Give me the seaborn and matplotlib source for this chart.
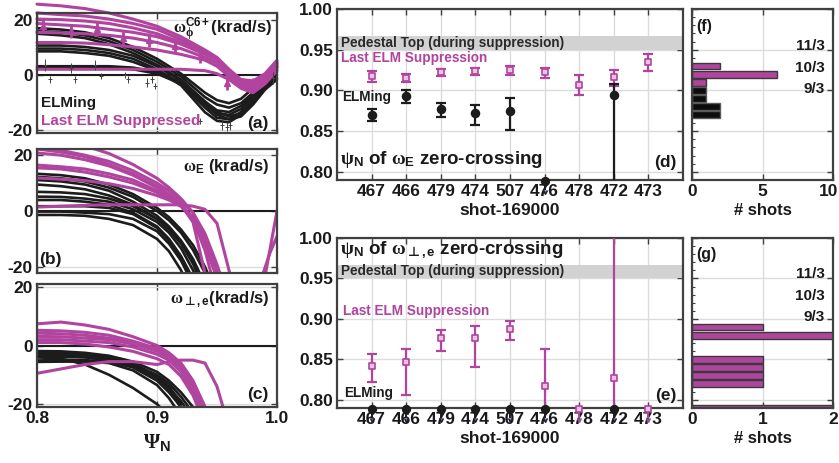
import numpy as np
import pandas as pd
import matplotlib
matplotlib.use('Agg')
import matplotlib.pyplot as plt
import matplotlib.transforms as mtrans
import seaborn as sns
from matplotlib.ticker import MultipleLocator

# ---------------- data ----------------
# panel (a): toroidal C6+ rotation profiles (krad/s)
psi_a = [0.80, 0.82, 0.84, 0.86, 0.88, 0.90, 0.92, 0.94, 0.95, 0.96, 0.97, 0.98, 0.99, 1.00]
a_elming = [
    [17, 16.5, 15.5, 13.4, 10.2, 5.9, 0.5, -6.4, -9.1, -10.2, -8.6, -4.8, -0.5, 4.3],
    [16, 15.5, 14.4, 12.3, 9.1, 4.8, -0.5, -8, -10.7, -11.8, -10.2, -6.4, -1.6, 3.2],
    [15, 14.4, 13.4, 11.2, 8, 3.7, -1.6, -9.6, -12.8, -13.4, -11.2, -7, -2.1, 2.7],
    [10.7, 10.7, 10.2, 9.1, 7, 3.2, -2.1, -10.7, -13.9, -14.4, -12.3, -7.5, -2.7, 2.1],
    [9.6, 9.6, 9.1, 8, 5.9, 2.1, -3.2, -11.8, -15.5, -16, -13.4, -8.6, -3.2, 1.1],
    [8.6, 8.6, 8, 7, 4.8, 1.6, -3.7, -13.5, -16.6, -17.1, -14.4, -9.6, -4.3, 0],
    [3.2, 3.2, 3.2, 3.2, 2.7, 1.1, -2.7, -9.6, -13.4, -15, -13.9, -9.6, -4.8, -1.1],
    [2.7, 2.7, 2.7, 2.7, 2.1, 0.5, -3.2, -10.7, -14.4, -16, -15, -10.7, -5.3, -1.6],
]
a_suppr = [
    [25.7, 25.1, 24.1, 22.5, 20.3, 17.7, 13.9, 9.1, 6.4, 2.1, -1.6, -2.1, 0.5, 5.4],
    [22.5, 21.9, 21.4, 20.3, 18.7, 16.6, 12.8, 8.6, 5.9, 1.6, -2.1, -2.7, 0, 4.8],
    [18.7, 18.2, 17.7, 16.6, 15.5, 13.9, 11.2, 7.5, 5.4, 0.5, -3.2, -3.7, -1.1, 3.7],
    [15.5, 15.3, 15, 14.4, 13.4, 11.8, 9.6, 6.4, 4.3, 0, -3.7, -4.8, -1.6, 3.2],
    [11.8, 11.8, 11.6, 11, 10.2, 9.1, 7.5, 5.4, 3.2, -0.5, -4.3, -5.4, -2.1, 2.7],
    [2.1, 2.1, 2.1, 2.1, 2.1, 2.1, 2.1, 1.6, 0.5, -1.6, -4.8, -6.4, -3.2, 1.6],
    [20.3, 20.1, 19.6, 18.7, 17.1, 15, 11.8, 8, 5.4, 1.1, -2.7, -3.2, -0.5, 4.3],
]
a_sup_pts_psi = [0.805, 0.828, 0.850, 0.872, 0.893, 0.915, 0.936, 0.958, 0.980]
a_sup_pts_val = [17.7, 16.0, 16.6, 13.4, 12.8, 10.7, 7.0, -2.7, -3.7]
a_elm_pts_psi = [0.807, 0.811, 0.828, 0.832, 0.848, 0.853, 0.873, 0.876, 0.892, 0.896,
                 0.898, 0.936, 0.954, 0.958, 0.961, 0.997]
a_elm_pts_val = [3.6, -1.6, 2.6, -1.6, 3.6, -0.5, 0.0, -1.6, -2.7, -1.6,
                 -4.0, -16.7, -18.2, -18.7, -18.2, -1.1]
a_elm_pts_err = [2.1, 1.3, 1.8, 1.3, 1.8, 1.1, 1.1, 1.1, 1.8, 1.1,
                 1.1, 1.1, 1.6, 1.6, 1.6, 2.1]

# panel (b): E x B rotation profiles
psi_b = [0.80, 0.82, 0.84, 0.86, 0.88, 0.90, 0.91, 0.92, 0.93, 0.94, 0.95, 0.96, 0.97]
b_elming = [
    [12.1, 11.6, 10.5, 8.3, 5, 0, -3.3, -7.7, -13.8, -22, -33],
    [11, 10.5, 9.4, 7.2, 3.3, -1.7, -5.5, -10.5, -17, -26],
    [9.4, 8.8, 7.7, 5.5, 2.2, -2.8, -6.6, -11.6, -18.7, -29],
    [6.8, 6.6, 6, 4.4, 1.7, -2.8, -6, -11, -17.6, -27.5],
    [5.1, 5, 4.4, 3.3, 0.6, -3.9, -7.7, -13.2, -21, -31],
    [3.9, 3.9, 3.3, 2.2, -0.6, -5.5, -9.9, -16, -24],
    [1.7, 1.7, 1.7, 1.1, -1.1, -6, -10.5, -16.5, -25],
    [-0.2, -0.2, -0.6, -1.1, -2.8, -7.2, -11.6, -17.6, -26],
    [-1.4, -1.4, -1.7, -2.8, -5, -9.9, -14.3, -21, -31],
    [13.2, 12.7, 11.6, 9.4, 6, 1.1, -2.2, -6.6, -12.1, -19.8, -30],
]
b_suppr = [
    [25.3, 24.8, 23.1, 20.4, 16.5, 11.6, 8.3, 4.4, -0.6, -9, -21, -34],
    [22.3, 21.5, 19.8, 17.6, 14.3, 9.9, 7.2, 3.9, -0.6, -8, -19, -32],
    [22, 20.9, 19.3, 16.5, 13.2, 8.8, 6, 2.8, -3, -14, -30],
    [20.6, 19.8, 18.2, 16, 12.7, 8.3, 5.5, 2.2, -4, -22, -40],
    [16.3, 15.7, 14.9, 13.2, 11, 7.2, 5, 1.7, -3, -12, -24],
    [15.3, 14.9, 13.8, 12.1, 9.9, 6.6, 4.4, 1.7, -2.2, -10, -22],
    [11.7, 11.3, 10.8, 9.7, 8, 5.5, 3.9, 1.7, -2.2, -9, -20, -33],
    [1.4, 1.7, 2, 2.2, 2.2, 2.2, 2.2, 2.2, 1.7, 0.6, -4.4, -21, -38],
]
b_edge_psi = [0.987, 0.994, 1.000]
b_edge_suppr = [
    [-24, -15, -9],
    [-30, -14, 0],
]

# panel (c): perpendicular electron rotation profiles
psi_c = [0.80, 0.82, 0.84, 0.86, 0.88, 0.90, 0.91, 0.92, 0.93, 0.94, 0.95, 0.96]
c_elming = [
    [-1.9, -2, -2.5, -3.5, -5.5, -9, -12, -16, -21],
    [-3, -3, -3.5, -4.5, -6.5, -10, -13, -17.5, -23],
    [-4, -4, -4, -5, -7, -11, -14.5, -19, -25],
    [-5.1, -5, -5, -5.5, -7.5, -12, -16, -21],
    [-5.6, -5.5, -5.5, -6, -8.5, -13.5, -18, -24],
    [-2.5, -2.5, -3, -4, -6, -10.5, -14, -20],
    [-4, -4.5, -6.5, -10, -14.5, -20, -24],
    [-3.5, -3.5, -4, -5, -7, -11, -15, -21],
]
c_suppr = [
    [7.4, 8, 7, 5.5, 3, 0, -2.5, -6, -12, -21],
    [5.2, 5, 4.5, 3.5, 1.5, -1, -3, -6.5, -12.5, -21],
    [4.2, 4, 3.5, 2.5, 1, -1.5, -3.5, -7, -13.5, -23],
    [3.1, 3, 2.5, 2, 0.5, -2, -4, -8, -14.5, -24],
    [2, 2, 1.5, 1, -0.5, -3, -5, -9, -16, -26],
    [1, 1, 0.5, -0.5, -2, -4.5, -6.5, -10.5, -17, -27],
    [-9.5, -8, -6.5, -5.5, -5.5, -6.5, -5.5, -5, -5, -6, -14, -28],
]

# panels (d),(e): psi_N of zero crossing per shot
shots = ['467', '466', '479', '474', '507', '476', '478', '472', '473']

d_sup_shots = ['467', '466', '479', '474', '507', '476', '478', '472', '473']
d_sup_val = [0.9175, 0.915, 0.9225, 0.924, 0.925, 0.9225, 0.907, 0.916, 0.935]
d_sup_lo = [0.910, 0.910, 0.918, 0.919, 0.919, 0.915, 0.894, 0.905, 0.924]
d_sup_hi = [0.924, 0.920, 0.926, 0.928, 0.930, 0.927, 0.919, 0.925, 0.945]
d_elm_shots = ['467', '466', '479', '474', '507', '472']
d_elm_val = [0.8696, 0.893, 0.877, 0.872, 0.875, 0.8946]
d_elm_lo = [0.862, 0.884, 0.8675, 0.857, 0.851, 0.700]
d_elm_hi = [0.877, 0.900, 0.885, 0.8825, 0.891, 0.9075]
d_elm_limit_shots = ['476']

e_sup_shots = ['467', '466', '479', '474', '507', '476', '472']
e_sup_val = [0.8425, 0.8467, 0.876, 0.876, 0.887, 0.8175, 0.8267]
e_sup_lo = [0.8217, 0.806, 0.860, 0.8404, 0.874, 0.750, 0.750]
e_sup_hi = [0.857, 0.8625, 0.886, 0.8917, 0.8975, 0.8625, 1.010]
e_sup_limit_shots = ['478', '473']
e_elm_limit_shots = ['467', '466', '479', '474', '507', '476', '472']
limit_val = 0.789

ped_top = [0.950, 0.967]

# panels (f),(g): histograms of the zero-crossing location
f_sup_psi = [0.93, 0.92, 0.91]
f_sup_n = [2, 6, 1]
f_elm_psi = [0.90, 0.89, 0.88, 0.87]
f_elm_n = [1, 1, 2, 2]
g_sup_psi = [0.89, 0.88, 0.85, 0.84, 0.83, 0.82, 0.79]
g_sup_n = [1, 2, 1, 1, 1, 1, 2]
q_labels = ['11/3', '10/3', '9/3']
q_psi = [0.955, 0.928, 0.902]

# ---------------- style ----------------
sns.set_theme(style='white')
plt.rcParams.update({
    'font.family': ['Liberation Sans', 'DejaVu Sans'],
    'font.weight': 'bold',
    'axes.labelweight': 'bold',
    'axes.unicode_minus': False,
    'mathtext.fontset': 'custom',
    'mathtext.rm': 'Liberation Serif',
    'mathtext.it': 'Liberation Serif:italic',
    'mathtext.bf': 'Liberation Sans:bold',
    'mathtext.sf': 'DejaVu Sans:bold',
    'mathtext.fallback': 'stix',
})

MAG = '#B0449F'
MAGL = '#E9C3E3'
BLK = '#1c1c1c'
SPINE = '#404040'
GRID = '#dcdcdc'
TXT = '#1a1a1a'
BOLD = 'bold'
PERP = r'\mathsf{\bot}'

W, H = 839, 463
fig = plt.figure(figsize=(W / 100, H / 100), dpi=100)


def rect(l, t, r, b):
    return [l / W, 1 - b / H, (r - l) / W, (b - t) / H]


def style(ax, labelsize=12.5):
    for s in ax.spines.values():
        s.set_visible(True)
        s.set_color(SPINE)
        s.set_linewidth(1.6)
    ax.tick_params(axis='both', which='major', direction='in', length=4, width=1,
                   color=SPINE, labelsize=labelsize, labelcolor=TXT,
                   top=True, right=True, bottom=True, left=True, pad=3)
    ax.grid(True, color=GRID, lw=1)
    ax.set_axisbelow(True)


def bold_ticks(ax):
    for lbl in ax.get_xticklabels() + ax.get_yticklabels():
        lbl.set_fontweight(BOLD)


def curves(ax, grid, data, color, lw, clip=True):
    rows = []
    for i, c in enumerate(data):
        for x, y in zip(grid, c):
            rows.append({'curve': i, 'psi': x, 'val': y})
    df = pd.DataFrame(rows)
    n0 = len(ax.lines)
    sns.lineplot(data=df, x='psi', y='val', units='curve', estimator=None,
                 color=color, lw=lw, ax=ax, legend=False, sort=False)
    for ln in ax.lines[n0:]:
        ln.set_clip_on(clip)
        ln.set_solid_capstyle('round')
    ax.set_xlabel('')
    ax.set_ylabel('')


ax_a = fig.add_axes(rect(37, 13, 277, 133))
ax_b = fig.add_axes(rect(37, 149, 277, 273))
ax_c = fig.add_axes(rect(37, 284, 277, 407))
ax_d = fig.add_axes(rect(337, 9, 683, 180))
ax_e = fig.add_axes(rect(337, 238, 683, 408))
ax_f = fig.add_axes(rect(692, 9, 833, 180))
ax_g = fig.add_axes(rect(692, 238, 833, 408))

# ---------- left profile panels ----------
for ax, grid, elm, sup, ylim in [
        (ax_a, psi_a, a_elming, a_suppr, (-21, 22.5)),
        (ax_b, psi_b, b_elming, b_suppr, (-22, 22)),
        (ax_c, psi_c, c_elming, c_suppr, (-21, 21))]:
    ax.axhline(0, color=BLK, lw=1.5, zorder=1.5)
    clip = ax is not ax_a
    curves(ax, grid, elm, BLK, 1.9, clip)
    curves(ax, grid, sup, MAG, 2.2, clip)
    style(ax)
    ax.set_xlim(0.8, 1.0)
    ax.set_ylim(*ylim)
    ax.set_xticks([0.8, 0.9, 1.0])
    ax.set_yticks([-20, 0, 20])

curves(ax_b, b_edge_psi, b_edge_suppr, MAG, 2.2)

ax_a.errorbar(a_elm_pts_psi, a_elm_pts_val, yerr=a_elm_pts_err, fmt='+', color='#444444',
              ms=3, mew=0.7, elinewidth=0.7, zorder=4)
ax_a.errorbar(a_sup_pts_psi, a_sup_pts_val, yerr=2.6, fmt='^', color=MAG, mec=MAG,
              ms=4.5, elinewidth=2, zorder=5)

ax_a.set_xticklabels([])
ax_b.set_xticklabels([])
ax_c.set_xticklabels(['0.8', '0.9', '1.0'])
for ax in (ax_a, ax_b, ax_c):
    bold_ticks(ax)
ax_c.set_xlabel(r'$\mathrm{\Psi}_{\mathbf{N}}$', fontsize=15, labelpad=4, color=TXT)

ax_a.text(0.98, 0.86, r'$\mathrm{\omega}_{\mathrm{\phi}}^{\mathbf{C6+}}$(krad/s)',
          transform=ax_a.transAxes, ha='right', va='center', fontsize=12, color=TXT,
          fontweight=BOLD)
ax_a.text(0.015, 0.25, 'ELMing', transform=ax_a.transAxes, ha='left', va='center',
          fontsize=11, color=BLK, fontweight=BOLD)
ax_a.text(0.015, 0.10, 'Last ELM Suppressed', transform=ax_a.transAxes, ha='left',
          va='center', fontsize=11, color=MAG, fontweight=BOLD)
ax_a.text(0.965, 0.08, '(a)', transform=ax_a.transAxes, ha='right', va='center',
          fontsize=12.5, color=TXT, fontweight=BOLD)

ax_b.text(0.97, 0.86, r'$\mathrm{\omega}_{\mathbf{E}}$ (krad/s)', transform=ax_b.transAxes,
          ha='right', va='center', fontsize=12, color=TXT, fontweight=BOLD)
ax_b.text(0.01, 0.11, '(b)', transform=ax_b.transAxes, ha='left', va='center',
          fontsize=12.5, color=TXT, fontweight=BOLD)

ax_c.text(0.97, 0.87, r'$\mathrm{\omega}_{' + PERP + r'\mathbf{,e}}$(krad/s)',
          transform=ax_c.transAxes, ha='right', va='center', fontsize=12, color=TXT,
          fontweight=BOLD)
ax_c.text(0.965, 0.10, '(c)', transform=ax_c.transAxes, ha='right', va='center',
          fontsize=12.5, color=TXT, fontweight=BOLD)

# ---------- middle panels ----------
pos = {s: i + 1 for i, s in enumerate(shots)}


def with_errors(ax, sh, val, lo, hi, color, marker, face, ms):
    x = [pos[s] for s in sh]
    yerr = [np.subtract(val, lo), np.subtract(hi, val)]
    ax.errorbar(x, val, yerr=yerr, fmt='none', ecolor=color, elinewidth=1.6,
                capsize=3.5, capthick=1.6, zorder=3)
    sns.scatterplot(x=x, y=val, marker=marker, s=ms, color=face, edgecolor=color,
                    linewidth=1.2, ax=ax, zorder=4, legend=False)


def limits(ax, sh, color, marker, face, ms):
    x = [pos[s] for s in sh]
    cont = ax.errorbar(x, [limit_val] * len(x), yerr=0.011, uplims=True, fmt='none',
                       ecolor=color, elinewidth=1.4, zorder=3)
    for art in cont.lines[1] + cont.lines[2]:
        art.set_clip_on(False)
        if hasattr(art, 'set_markersize'):
            art.set_markersize(3.5)
    sc = ax.scatter(x, [limit_val] * len(x), marker=marker, s=ms, c=face,
                    edgecolors=color, linewidths=1.2, zorder=5)
    sc.set_clip_on(False)


for ax in (ax_d, ax_e):
    ax.axhspan(ped_top[0], ped_top[1], color='#d2d2d2', zorder=1, lw=0)

with_errors(ax_d, d_sup_shots, d_sup_val, d_sup_lo, d_sup_hi, MAG, 's', MAGL, 24)
with_errors(ax_d, d_elm_shots, d_elm_val, d_elm_lo, d_elm_hi, BLK, 'o', BLK, 32)
limits(ax_d, d_elm_limit_shots, BLK, 'o', BLK, 30)

with_errors(ax_e, e_sup_shots, e_sup_val, e_sup_lo, e_sup_hi, MAG, 's', MAGL, 24)
limits(ax_e, e_elm_limit_shots, BLK, 'o', BLK, 30)
limits(ax_e, e_sup_limit_shots, MAG, 's', MAGL, 22)

for ax in (ax_d, ax_e):
    style(ax)
    ax.set_xlim(0, 10)
    ax.set_ylim(0.79, 1.0)
    ax.set_xticks(list(range(1, 10)))
    ax.set_xticklabels(shots)
    ax.set_yticks([0.80, 0.85, 0.90, 0.95, 1.00])
    ax.set_yticklabels(['0.80', '0.85', '0.90', '0.95', '1.00'])
    bold_ticks(ax)
    ax.set_xlabel('shot-169000', fontsize=12.5, color=TXT, labelpad=3, fontweight=BOLD)
    ax.set_ylabel('')
    ax.text(0.12, 0.9585 if ax is ax_d else 0.959, 'Pedestal Top (during suppression)',
            ha='left', va='center', fontsize=9.8, color='#2a2a2a', zorder=6, fontweight=BOLD)

ax_d.text(0.13, 0.940, 'Last ELM Suppression', ha='left', va='center', fontsize=9.8,
          color=MAG, fontweight=BOLD)
ax_d.text(0.16, 0.892, 'ELMing', ha='left', va='center', fontsize=9.8, color=BLK,
          fontweight=BOLD)
ax_d.text(0.08, 0.8147,
          r'$\mathrm{\psi}_{\mathbf{N}}$ of $\mathrm{\omega}_{\mathbf{E}}$ zero-crossing',
          ha='left', va='center', fontsize=13.5, color=TXT, fontweight=BOLD)
ax_d.text(9.8, 0.811, '(d)', ha='right', va='center', fontsize=12.5, color=TXT,
          fontweight=BOLD)

ax_e.text(0.08, 0.985,
          r'$\mathrm{\psi}_{\mathbf{N}}$ of $\mathrm{\omega}_{' + PERP + r'\mathbf{,e}}$ zero-crossing',
          ha='left', va='center', fontsize=13.5, color=TXT, fontweight=BOLD)
ax_e.text(0.17, 0.910, 'Last ELM Suppression', ha='left', va='center', fontsize=9.8,
          color=MAG, fontweight=BOLD)
ax_e.text(0.20, 0.809, 'ELMing', ha='left', va='center', fontsize=9.8, color=BLK,
          fontweight=BOLD)
ax_e.text(9.8, 0.806, '(e)', ha='right', va='center', fontsize=12.5, color=TXT,
          fontweight=BOLD)

# ---------- histograms ----------
sns.barplot(x=f_sup_n, y=f_sup_psi, orient='y', native_scale=True, width=0.85, color=MAG,
            saturation=1, edgecolor='#3a3a3a', linewidth=1, errorbar=None, ax=ax_f)
sns.barplot(x=f_elm_n, y=f_elm_psi, orient='y', native_scale=True, width=0.85, color='#0d0d0d',
            saturation=1, edgecolor='#5a5a5a', linewidth=1, errorbar=None, ax=ax_f)
sns.barplot(x=g_sup_n, y=g_sup_psi, orient='y', native_scale=True, width=0.85, color=MAG,
            saturation=1, edgecolor='#3a3a3a', linewidth=1, errorbar=None, ax=ax_g)

for ax, xmax, xt, lab in [(ax_f, 10, [0, 5, 10], '(f)'), (ax_g, 2, [0, 1, 2], '(g)')]:
    style(ax)
    ax.set_xlim(0, xmax)
    ax.set_ylim(0.79, 1.0)
    ax.set_xticks(xt)
    ax.set_xticklabels([str(v) for v in xt])
    ax.set_yticks([0.80, 0.85, 0.90, 0.95, 1.00])
    ax.set_yticklabels([])
    bold_ticks(ax)
    ax.yaxis.set_minor_locator(MultipleLocator(0.01))
    ax.tick_params(axis='y', which='minor', direction='in', length=2.5, width=0.8,
                   color=SPINE, left=True, right=False)
    ax.set_xlabel('# shots', fontsize=12, color=TXT, labelpad=3, fontweight=BOLD)
    ax.set_ylabel('')
    ax.text(0.03, 0.90, lab, transform=ax.transAxes, ha='left', va='center',
            fontsize=11.5, color=TXT, fontweight=BOLD)
    for q, y in zip(q_labels, q_psi):
        ax.text(0.94, y, q, transform=ax.get_yaxis_transform(), ha='right', va='center',
                fontsize=11, color=TXT, fontweight=BOLD)

# keep the last histogram tick label ("10") inside the canvas
last_tick = ax_f.xaxis.get_major_ticks()[-1]
last_tick.label1.set_transform(last_tick.label1.get_transform()
                               + mtrans.ScaledTranslation(-4 / 100, 0, fig.dpi_scale_trans))

fig.savefig('out.png', dpi=100)
